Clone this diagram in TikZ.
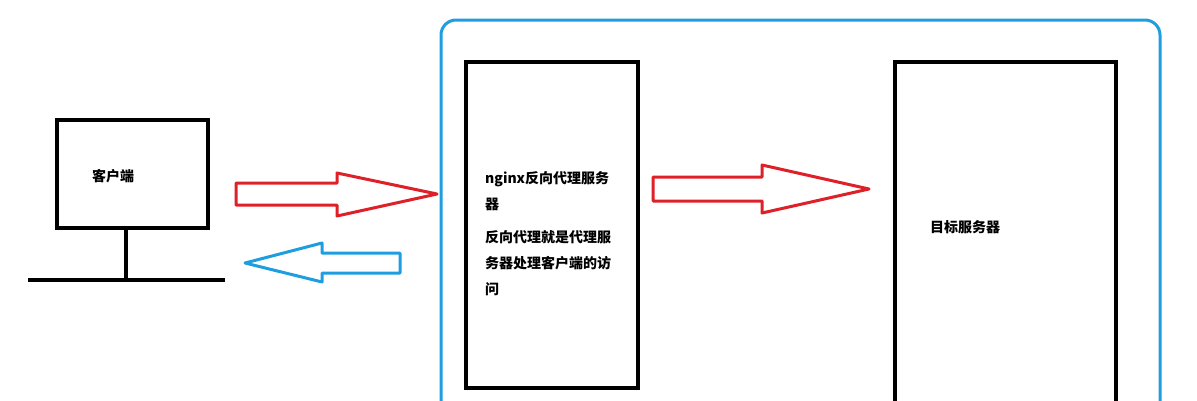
\documentclass[tikz,border=0pt]{standalone}
\usepackage{fontspec}
\setmainfont{Noto Sans CJK SC}
\usepackage{xcolor}
\definecolor{arrowred}{RGB}{222,32,40}
\definecolor{framblue}{RGB}{30,158,222}

\begin{document}
\begin{tikzpicture}[x=1pt,y=-1pt,
    box/.style={draw,line width=3.2pt,rectangle,inner sep=0pt},
    label/.style={font=\fontsize{14}{26}\selectfont\bfseries,inner sep=0pt},
    redarrow/.style={draw=arrowred,line width=3pt,line join=round},
    bluearrow/.style={draw=framblue,line width=3pt,line join=round}]
                \useasboundingbox (0,0) rectangle (1197,400);
                \clip (0,0) rectangle (1197,400);

                % client
                \node (client) at (132.5,174) [box,minimum width=151pt,minimum height=108pt] {};
                \node (clienttext) at (92,176) [label,anchor=west] {客户端};
                \coordinate (stand) at (126,280);
                \coordinate (baseL) at (28,280);
                \coordinate (baseR) at (225,280);
                \draw[line width=3.2pt] (client.south -| stand) -- (stand) (baseL) -- (baseR);

                % frame and servers
                \draw[framblue,line width=3pt,rounded corners=15pt] (441,20) rectangle (1160,440);
                \node (proxy) at (552,225) [box,minimum width=172pt,minimum height=326pt] {};
                \node (proxytext) at (485,171) [label,anchor=north west,align=left]
                    {nginx反向代理服务\\器\\[7pt]反向代理就是代理服\\务器处理客户端的访\\问};
                \node (target) at (1005.5,251) [box,minimum width=221pt,minimum height=378pt] {};
                \node (targettext) at (930,227) [label,anchor=west] {目标服务器};

                % arrows
                \draw[redarrow] (236,183) -- (337,183) -- (337,173) -- (437,194) -- (337,216) -- (337,205) -- (236,205) -- cycle;
                \draw[bluearrow] (400,253) -- (322,253) -- (322,243) -- (245,263) -- (322,282) -- (322,273) -- (400,273) -- cycle;
                \draw[redarrow] (653,177) -- (762,177) -- (762,165) -- (869,189) -- (762,213) -- (762,201) -- (653,201) -- cycle;

            \end{tikzpicture}
\end{document}
